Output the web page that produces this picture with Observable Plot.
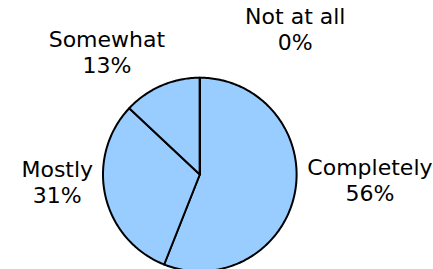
<!DOCTYPE html>
<html>
<head>
<meta charset="utf-8">
<script src="https://cdn.jsdelivr.net/npm/d3@7"></script>
<script src="https://cdn.jsdelivr.net/npm/@observablehq/plot@0.6"></script>
<style>
  html, body { margin: 0; padding: 0; background: #ffffff; }
  #chart svg { display: block; }
</style>
</head>
<body>
<div id="chart"></div>
<script>
// ---- data ----
const categories = ["Completely", "Mostly", "Somewhat", "Not at all"];
const values = [56, 31, 13, 0];

// ---- layout ----
const W = 433, H = 269;
const cx = 199.3, cy = 174, R = 96.8;   // pie centre and radius in pixels
const fontSize = 22, fontFamily = "DejaVu Sans, Verdana, sans-serif";
const lineHeight = 1.2;

const arcs = d3.pie().sort(null).value(d => d.value)(
  categories.map((c, i) => ({category: c, value: values[i]}))
);

// slice polygons, in radius units (y up)
const slicePts = [];
arcs.forEach(a => {
  const k = a.data.category;
  slicePts.push({k, x: 0, y: 0});
  const n = Math.max(1, Math.ceil((a.endAngle - a.startAngle) / (Math.PI / 180)));
  for (let j = 0; j <= n; j++) {
    const t = a.startAngle + (a.endAngle - a.startAngle) * j / n;
    slicePts.push({k, x: Math.sin(t), y: Math.cos(t)});
  }
});

// label placement
const ctx = document.createElement("canvas").getContext("2d");
ctx.font = `${fontSize}px ${fontFamily}`;
const Rx = 110, P = 1.25, B = 146, gap = 80;
const blockH = 2 * lineHeight * fontSize;
const labels = arcs.map(a => {
  const mid = (a.startAngle + a.endAngle) / 2;
  let sx = Math.sin(mid), cyv = Math.cos(mid);
  if (Math.abs(sx) < 1e-6) sx = 0;
  const text = `${a.data.category}\n${a.data.value}%`;
  const w = Math.max(...text.split("\n").map(s => ctx.measureText(s).width));
  const px = Math.sign(sx) * (Math.pow(Math.abs(sx), P) * Rx + w / 2); // right +
  const py = Math.sign(cyv) * cyv * cyv * B;                           // up +
  return {text, w, px, py};
});
// simple collision resolution: push overlapping labels to the right
labels.forEach((L, i) => {
  for (let j = 0; j < i; j++) {
    const O = labels[j];
    const ox = Math.abs(L.px - O.px) < (L.w + O.w) / 2;
    const oy = Math.abs(L.py - O.py) < blockH;
    if (ox && oy) L.px = O.px + O.w / 2 + gap + L.w / 2;
  }
});
labels.forEach(L => { L.x = L.px / R; L.y = L.py / R; });

const chart = Plot.plot({
  width: W,
  height: H,
  margin: 0,
  style: {background: "#ffffff", fontFamily, color: "#000"},
  x: {domain: [-cx / R, (W - cx) / R], range: [0, W], axis: null},
  y: {domain: [-(H - cy) / R, cy / R], range: [H, 0], axis: null},
  marks: [
    Plot.line(slicePts, {
      x: "x", y: "y", z: "k",
      curve: "linear-closed",
      fill: "#99ccff",
      stroke: "#000000",
      strokeWidth: 2,
      strokeLinejoin: "round"
    }),
    Plot.text(labels, {
      x: "x", y: "y", text: "text",
      textAnchor: "middle",
      lineAnchor: "middle",
      lineHeight,
      fontSize,
      fontFamily,
      fill: "#000000"
    })
  ]
});
document.getElementById("chart").appendChild(chart);
</script>
</body>
</html>
